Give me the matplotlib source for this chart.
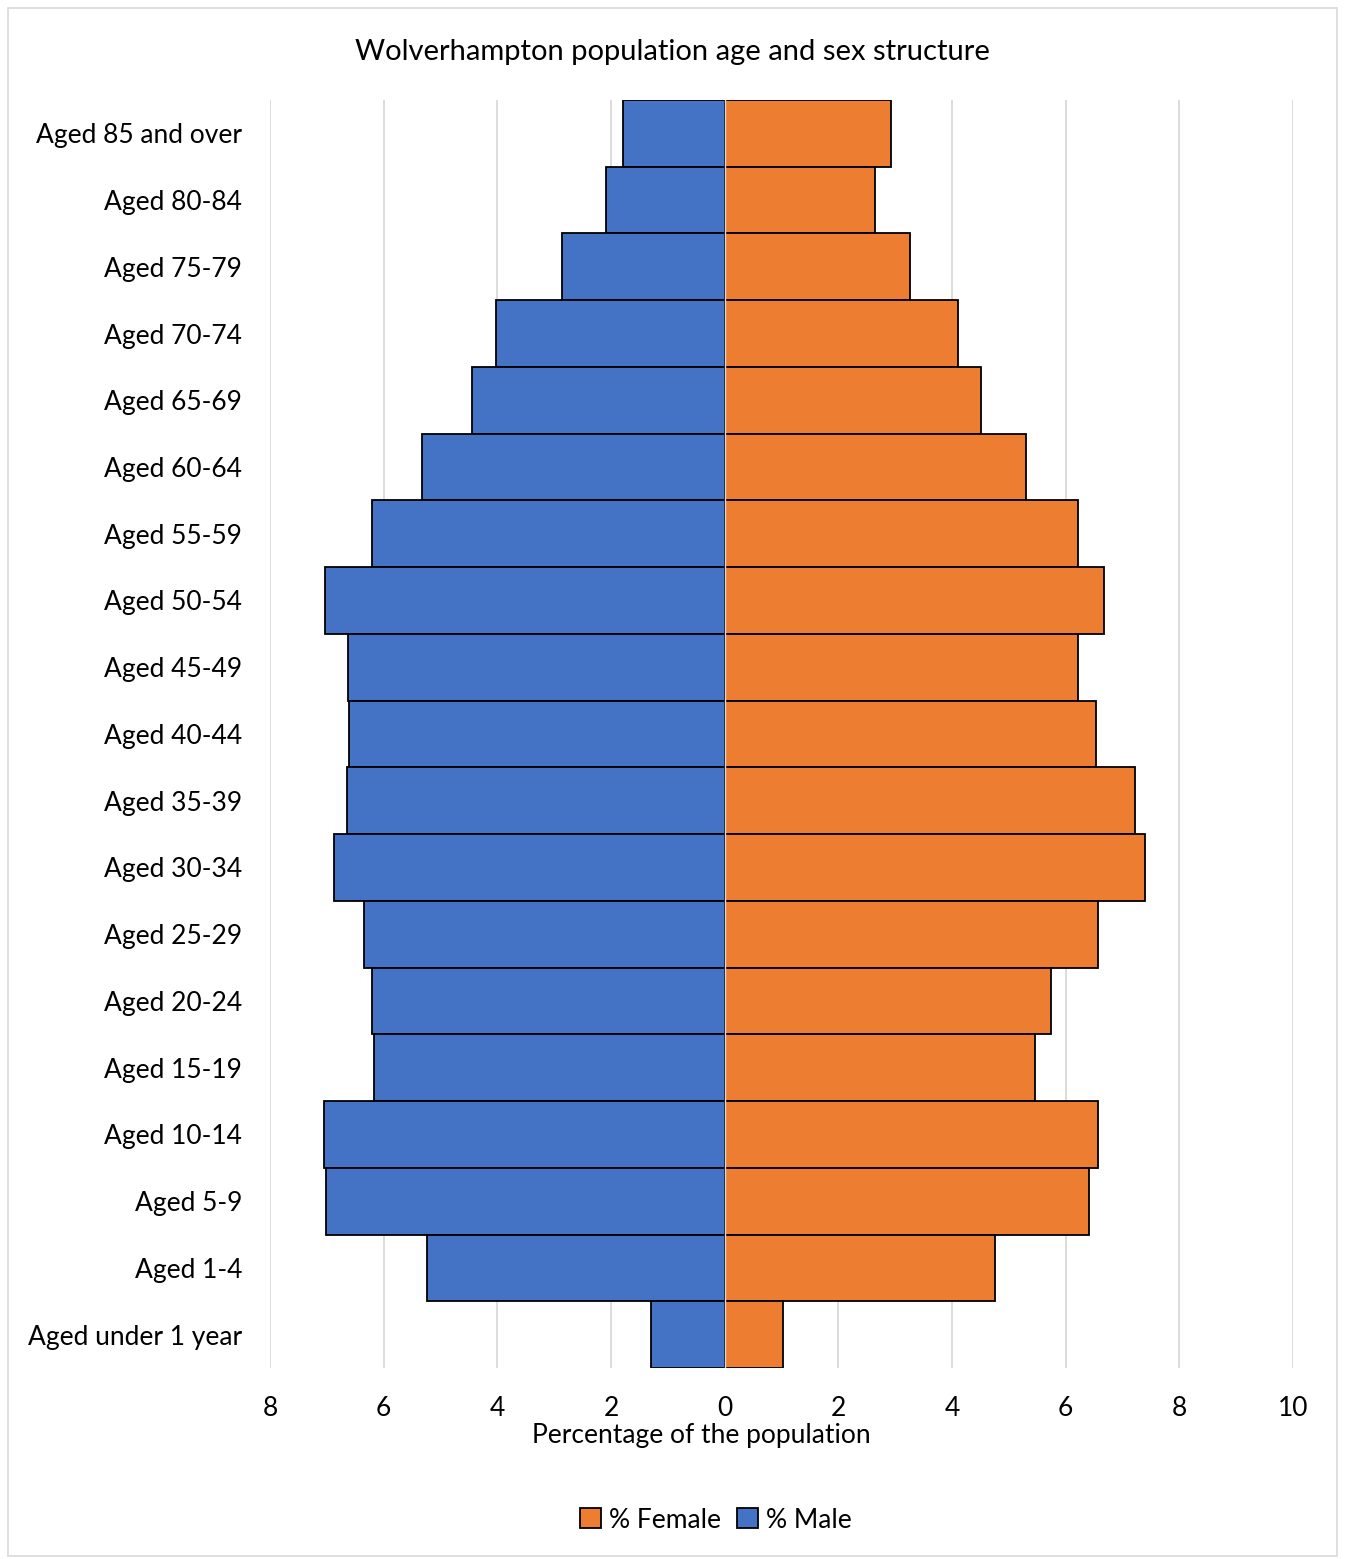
import matplotlib.pyplot as plt
import numpy as np
from matplotlib.ticker import FuncFormatter, MultipleLocator
from matplotlib.patches import Rectangle

plt.rcParams['font.family'] = ['Lato', 'DejaVu Sans']

# age bands, top of the pyramid first
ages = ["Aged 85 and over", "Aged 80-84", "Aged 75-79", "Aged 70-74", "Aged 65-69",
        "Aged 60-64", "Aged 55-59", "Aged 50-54", "Aged 45-49", "Aged 40-44",
        "Aged 35-39", "Aged 30-34", "Aged 25-29", "Aged 20-24", "Aged 15-19",
        "Aged 10-14", "Aged 5-9", "Aged 1-4", "Aged under 1 year"]

male = [1.79, 2.09, 2.86, 4.02, 4.45, 5.33, 6.20, 7.03, 6.63, 6.61,
        6.64, 6.87, 6.34, 6.20, 6.17, 7.05, 7.01, 5.24, 1.30]

female = [2.93, 2.64, 3.27, 4.11, 4.52, 5.31, 6.22, 6.68, 6.22, 6.54,
          7.22, 7.40, 6.57, 5.75, 5.47, 6.57, 6.41, 4.76, 1.02]

blue = "#4472C4"
orange = "#ED7D31"

fig = plt.figure(figsize=(13.45, 15.59), dpi=100)
ax = fig.add_axes([0.2007, 0.1225, 0.7606, 0.8134])

# light frame round the whole chart area
fig.patches.append(Rectangle((0.006, 0.002), 0.988, 0.993, transform=fig.transFigure,
                             fill=False, edgecolor="#D9D9D9", linewidth=1.2))

y = np.arange(len(ages))
ax.barh(y, female, height=1.0, color=orange, edgecolor="black", linewidth=1.3,
        label="% Female", zorder=3)
ax.barh(y, -np.array(male), height=1.0, color=blue, edgecolor="black", linewidth=1.3,
        label="% Male", zorder=3)

ax.set_xlim(-8, 10)
ax.set_ylim(len(ages) - 0.5, -0.5)
ax.xaxis.set_major_locator(MultipleLocator(2))
ax.xaxis.set_major_formatter(FuncFormatter(lambda v, p: f"{abs(v):g}"))
ax.grid(axis="x", color="#D9D9D9", linewidth=1.3, zorder=0)
ax.axvline(0, color="#D9D9D9", linewidth=1.0, zorder=4)

ax.set_yticks(y)
ax.set_yticklabels(ages)
ax.tick_params(axis="both", length=0, labelsize=19, colors="black")
ax.tick_params(axis="y", pad=20)
ax.tick_params(axis="x", pad=20)
for s in ax.spines.values():
    s.set_visible(False)

ax.set_xlabel("Percentage of the population", fontsize=19, labelpad=1)
ax.xaxis.set_label_coords(0.422, -0.043)
fig.suptitle("Wolverhampton population age and sex structure", fontsize=21, y=0.975)

fig.legend(loc="center", bbox_to_anchor=(0.532, 0.025), ncol=2, frameon=False, fontsize=19,
           handlelength=0.8, handleheight=0.8, handletextpad=0.3, columnspacing=0.6)

fig.savefig("out.png", dpi=100)
